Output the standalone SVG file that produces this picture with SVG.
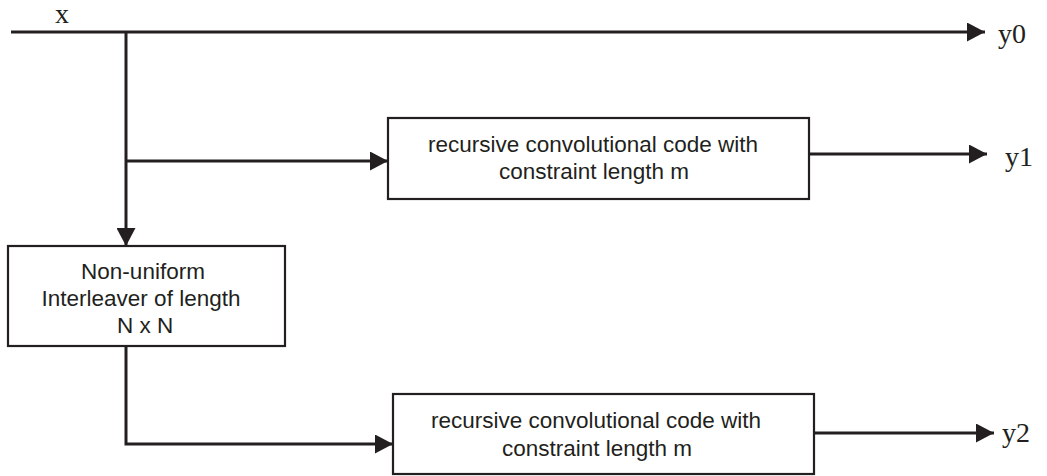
<svg xmlns="http://www.w3.org/2000/svg" width="1047" height="476" viewBox="0 0 1047 476">
  <style>
    .box { fill: #ffffff; stroke: #231f20; stroke-width: 2.2; }
    .wire { fill: none; stroke: #231f20; stroke-width: 3; stroke-linecap: butt; stroke-linejoin: miter; }
    .lbl { font-family: "Liberation Sans", Arial, sans-serif; font-size: 22.5px; fill: #231f20; text-anchor: middle; }
    .sig { font-family: "Liberation Serif", "Times New Roman", serif; font-size: 28px; fill: #231f20; }
  </style>
  <defs>
    <marker id="arrow" markerUnits="userSpaceOnUse" markerWidth="18" markerHeight="19" refX="18" refY="9.5" orient="auto">
      <path d="M0,0 L18,9.5 L0,19 Z" fill="#231f20"/>
    </marker>
  </defs>
  <rect width="1047" height="476" fill="#ffffff"/>

  <!-- connectors -->
  <g id="connectors">
    <!-- main input line: x to y0 -->
    <line class="wire" x1="11" y1="32" x2="985" y2="32" marker-end="url(#arrow)"/>
    <!-- tap down to the interleaver -->
    <line class="wire" x1="126" y1="32" x2="126" y2="246" marker-end="url(#arrow)"/>
    <!-- branch into encoder 1 -->
    <line class="wire" x1="126" y1="161" x2="388" y2="161" marker-end="url(#arrow)"/>
    <!-- encoder 1 output -->
    <line class="wire" x1="809" y1="154" x2="987" y2="154" marker-end="url(#arrow)"/>
    <!-- interleaver output into encoder 2 -->
    <polyline class="wire" points="126,346 126,444 393,444" marker-end="url(#arrow)"/>
    <!-- encoder 2 output -->
    <line class="wire" x1="814" y1="433" x2="994" y2="433" marker-end="url(#arrow)"/>
  </g>

  <!-- signal labels -->
  <g id="labels">
    <text class="sig" x="55" y="23">x</text>
    <text class="sig" x="998" y="43">y0</text>
    <text class="sig" x="1005" y="166">y1</text>
    <text class="sig" x="1002" y="442">y2</text>
  </g>

  <!-- encoder 1 -->
  <g id="encoder1">
    <rect class="box" x="388" y="118" width="421" height="81"/>
    <text class="lbl" x="593" y="152">recursive convolutional code with</text>
    <text class="lbl" x="594" y="179">constraint length m</text>
  </g>

  <!-- interleaver -->
  <g id="interleaver">
    <rect class="box" x="8" y="246" width="277" height="100"/>
    <text class="lbl" x="143" y="279">Non-uniform</text>
    <text class="lbl" x="141" y="306">Interleaver of length</text>
    <text class="lbl" x="145" y="333">N x N</text>
  </g>

  <!-- encoder 2 -->
  <g id="encoder2">
    <rect class="box" x="393" y="394" width="421" height="80"/>
    <text class="lbl" x="596" y="428">recursive convolutional code with</text>
    <text class="lbl" x="597" y="456">constraint length m</text>
  </g>
</svg>
